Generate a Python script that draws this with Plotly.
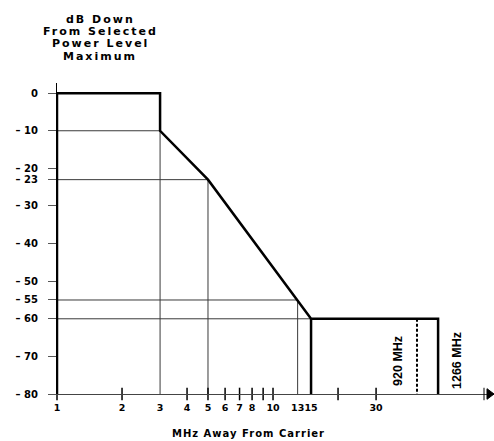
import math
import plotly.graph_objects as go

# ---------------- data ----------------
mask_mhz = [1, 1, 3, 3, 5, 13, 15]
mask_db = [-80, 0, 0, -10, -23, -55, -60]

ref_mhz = [3, 5, 13, 15]          # reference (thin) lines
ref_db = [-10, -23, -55, -60]

break_mhz = [920, 1266]            # values beyond the axis break
break_labels = ["920 MHz", "1266 MHz"]

x_tick_vals = [1, 2, 3, 4, 5, 6, 7, 8, 10, 13, 15, 30]
x_tick_text = ["1", "2", "3", "4", "5", "6", "7", "8", "10", "13", "15", "30"]
x_minor_ticks = [1, 2, 4, 5, 6, 7, 8, 9, 10, 20, 30]

y_tick_vals = [0, -10, -20, -23, -30, -40, -50, -55, -60, -70, -80]
y_tick_text = ["0", "– 10", "– 20", "– 23", "– 30", "– 40", "– 50", "– 55", "– 60", "– 70", "– 80"]

title_lines = ["dB Down", "From Selected", "Power Level", "Maximum"]
x_title = "MHz Away From Carrier"

# ---------------- scale break (compressed positions on the log axis) ----------------
BREAK_POS = {920: 46.4, 1266: 58.1}

Y_MIN = -80
bx = [BREAK_POS[v] for v in break_mhz]

BOLD = "DejaVu Sans"
NARROW = "Liberation Sans, Arial, sans-serif"

W, H = 494, 441
ML, MR, MT, MB = 57, 0, 83, 47
PW, PH = W - ML - MR, H - MT - MB


def px_to_paper(px, py):
    return (px - ML) / PW, (H - MB - py) / PH


fig = go.Figure()

# thin reference lines (L shapes)
rx, ry = [], []
for m, d in zip(ref_mhz, ref_db):
    rx += [1, m, m, None]
    ry += [d, d, Y_MIN, None]
fig.add_trace(go.Scatter(x=rx, y=ry, mode="lines",
                         line=dict(color="#3a3a3a", width=1), hoverinfo="skip"))

# mask (thick)
mx = mask_mhz + [bx[1], bx[1], None, mask_mhz[-1], mask_mhz[-1]]
my = mask_db + [mask_db[-1], Y_MIN, None, mask_db[-1], Y_MIN]
fig.add_trace(go.Scatter(x=mx, y=my, mode="lines",
                         line=dict(color="black", width=2.5), hoverinfo="skip"))

# dashed 920 MHz line
fig.add_trace(go.Scatter(x=[bx[0], bx[0]], y=[mask_db[-1], Y_MIN], mode="lines",
                         line=dict(color="black", width=2, dash="3px,2px"), hoverinfo="skip"))

# crossing minor ticks on the x axis
fig.add_trace(go.Scatter(x=x_minor_ticks, y=[Y_MIN] * len(x_minor_ticks), mode="markers",
                         marker=dict(symbol="line-ns", size=9,
                                     line=dict(color="black", width=1.5)),
                         cliponaxis=False, hoverinfo="skip"))

# rotated labels for the break lines (annotation x on a log axis is log10)
for xv, lab, shift in zip(bx, break_labels, [-19, 19]):
    fig.add_annotation(x=math.log10(xv), y=-71.2, xref="x", yref="y", text=lab,
                       showarrow=False, textangle=-90, xshift=shift,
                       font=dict(family=NARROW, size=12.5, color="black", weight="bold"))

# title block
for i, line in enumerate(title_lines):
    ax_, ay_ = px_to_paper(100, 19 + i * 12.5)
    fig.add_annotation(x=ax_, y=ay_, xref="paper", yref="paper",
                       text=f'<span style="letter-spacing:2px">{line}</span>',
                       showarrow=False, xanchor="center", yanchor="middle",
                       font=dict(family=BOLD, size=11, color="black", weight="bold"))

# x title
tx, ty = px_to_paper(248, 433)
fig.add_annotation(x=tx, y=ty, xref="paper", yref="paper",
                   text=f'<span style="letter-spacing:1px">{x_title}</span>',
                   showarrow=False, xanchor="center", yanchor="middle",
                   font=dict(family=BOLD, size=10, color="black", weight="bold"))

# axis break bar and arrow head
bx0, _ = px_to_paper(484, 0)
fig.add_shape(type="line", xref="paper", yref="paper", x0=bx0, x1=bx0,
              y0=-0.02, y1=0.02, line=dict(color="black", width=1))
fig.add_shape(type="path", xref="paper", yref="paper",
              path="M 0.984,0.017 L 1,0 L 0.984,-0.017 Z",
              fillcolor="black", line=dict(color="black", width=1))

fig.update_layout(
    width=W, height=H,
    margin=dict(l=ML, r=MR, t=MT, b=MB),
    paper_bgcolor="white", plot_bgcolor="white",
    showlegend=False,
    font=dict(family=BOLD, color="black"),
)

fig.update_xaxes(
    type="log", range=[0, 2.023],
    showline=True, linecolor="#444", linewidth=1,
    showgrid=False, zeroline=False,
    tickvals=x_tick_vals, ticktext=x_tick_text, ticks="",
    tickangle=0,
    ticklabelstandoff=5,
    tickfont=dict(family=BOLD, size=9.5, color="black", weight="bold"),
)
fig.update_yaxes(
    range=[-80, 2.7],
    showline=True, linecolor="black", linewidth=1,
    showgrid=False, zeroline=False,
    tickvals=y_tick_vals, ticktext=y_tick_text,
    ticks="outside", ticklen=8, tickcolor="#555", tickwidth=1,
    ticklabelstandoff=8,
    tickfont=dict(family=BOLD, size=10, color="black", weight="bold"),
)

fig.write_html("out.html")
